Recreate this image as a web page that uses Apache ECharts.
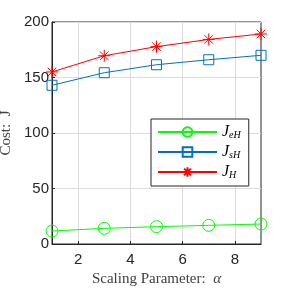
<!DOCTYPE html>
<html><head><meta charset="utf-8">
<script src="https://cdn.jsdelivr.net/npm/echarts@6/dist/echarts.min.js"></script>
<style>html,body{margin:0;padding:0;background:#fff}#c{width:288px;height:288px}</style>
</head><body><div id="c"></div>
<script>
const alphaValues = [1, 3, 5, 7, 9];
const jeH = [11.7, 14.1, 15.6, 16.8, 18.0];
const jsH = [143, 154.3, 161.5, 166, 170];
const jH = [155, 169.6, 177.8, 184.3, 189.2];
const xTicks = [2, 4, 6, 8];
const seriesNames = ['JeH', 'JsH', 'JH'];
const subs = {JeH: 'eH', JsH: 'sH', JH: 'H'};

const pair = (ys) => alphaValues.map((x, i) => [x, ys[i]]);
const asterisk = 'path://M0,-1L0,1M-1,0L1,0M-0.707,-0.707L0.707,0.707M-0.707,0.707L0.707,-0.707';

const chart = echarts.init(document.getElementById('c'), null, {renderer: 'canvas'});
chart.setOption({
  animation: false,
  backgroundColor: '#fff',
  grid: {left: 52, right: 27, top: 22, bottom: 44, outerBoundsMode: 'none', containLabel: false,
         show: true, borderColor: '#262626', borderWidth: 1, backgroundColor: 'transparent'},
  xAxis: {
    type: 'value', min: 1, max: 9,
    name: '{t|Scaling Parameter:  }{a|α}', nameLocation: 'middle', nameGap: 26,
    nameTextStyle: {fontFamily: 'Liberation Serif', fontSize: 15, color: '#404040',
      rich: {t: {fontFamily: 'Liberation Serif', fontSize: 15, color: '#404040'},
             a: {fontFamily: 'Liberation Serif', fontStyle: 'italic', fontSize: 15, color: '#404040'}}},
    axisLine: {show: true, lineStyle: {color: '#262626'}},
    axisTick: {show: true, inside: true, length: 3, customValues: xTicks, lineStyle: {color: '#262626'}},
    axisLabel: {customValues: xTicks, fontFamily: 'Liberation Sans', fontSize: 15, color: '#262626', margin: 8},
    splitLine: {show: true, lineStyle: {color: '#dcdcdc', width: 1}}
  },
  yAxis: {
    type: 'value', min: 0, max: 200, interval: 50,
    name: 'Cost:  J', nameLocation: 'middle', nameGap: 34, nameRotate: 90,
    nameTextStyle: {fontFamily: 'Liberation Serif', fontSize: 15, color: '#404040'},
    axisLine: {show: true, lineStyle: {color: '#262626'}},
    axisTick: {show: true, inside: true, length: 3, lineStyle: {color: '#262626'}},
    axisLabel: {fontFamily: 'Liberation Sans', fontSize: 15, color: '#262626', margin: 3},
    splitLine: {show: true, lineStyle: {color: '#dcdcdc', width: 1}}
  },
  legend: {
    left: 151, top: 119, width: 100,
    orient: 'vertical',
    padding: [5, 8, 6, 6],
    itemGap: 4,
    itemWidth: 59, itemHeight: 12,
    backgroundColor: '#fff', borderColor: '#262626', borderWidth: 1,
    data: seriesNames,
    formatter: (n) => '{j|J}{s|' + subs[n] + '}',
    textStyle: {
      rich: {
        j: {fontFamily: 'Liberation Serif', fontStyle: 'italic', fontSize: 16, lineHeight: 16, color: '#000'},
        s: {fontFamily: 'Liberation Serif', fontStyle: 'italic', fontSize: 10, lineHeight: 10, color: '#000', padding: [6, 0, 0, 0]}
      }
    }
  },
  series: [
    {name: 'JeH', type: 'line', data: pair(jeH), symbol: 'circle', symbolSize: 12,
     lineStyle: {color: '#00ff00', width: 1}, itemStyle: {color: 'rgba(0,0,0,0)', borderColor: '#00ff00', borderWidth: 1}},
    {name: 'JsH', type: 'line', data: pair(jsH), symbol: 'rect', symbolSize: 10,
     lineStyle: {color: '#0072bd', width: 1}, itemStyle: {color: 'rgba(0,0,0,0)', borderColor: '#0072bd', borderWidth: 1}},
    {name: 'JH', type: 'line', data: pair(jH), symbol: asterisk, symbolSize: 12,
     lineStyle: {color: '#ff0000', width: 1}, itemStyle: {color: 'rgba(0,0,0,0)', borderColor: '#ff0000', borderWidth: 1}}
  ]
});
</script></body></html>
